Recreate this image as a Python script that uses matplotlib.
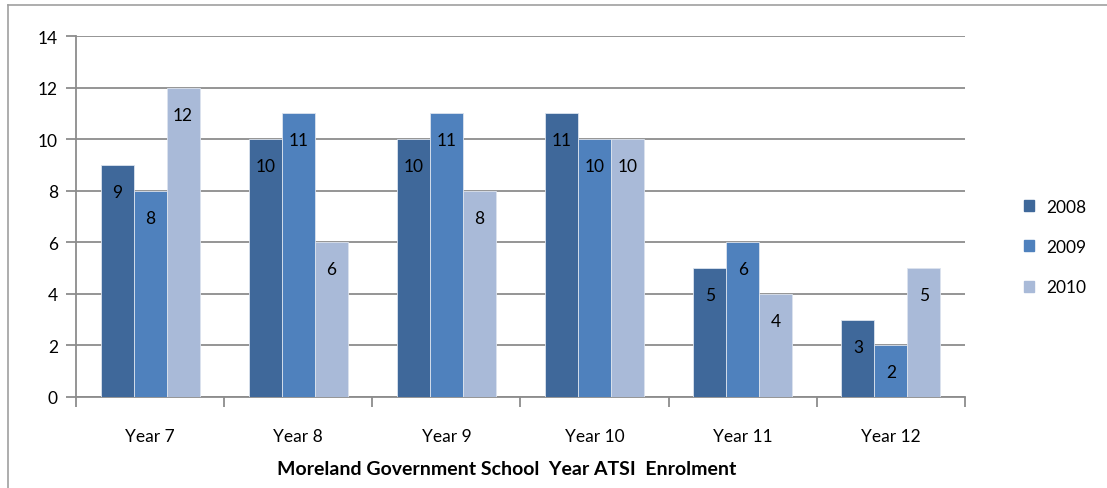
import matplotlib
matplotlib.use("Agg")
import matplotlib.pyplot as plt
import numpy as np
from matplotlib.lines import Line2D

categories = ["Year 7", "Year 8", "Year 9", "Year 10", "Year 11", "Year 12"]
series_names = ["2008", "2009", "2010"]
v2008 = [9, 10, 10, 11, 5, 3]
v2009 = [8, 11, 11, 10, 6, 2]
v2010 = [12, 6, 8, 10, 4, 5]
colors = ["#3F689A", "#4F81BD", "#A9BAD8"]

plt.rcParams['font.family'] = ['Lato', 'DejaVu Sans']
FS = 12.5

fig = plt.figure(figsize=(11.07, 4.89), dpi=100)
ax = fig.add_axes([76/1107, 1-398/489, (965-76)/1107, (398-37)/489])

x = np.arange(len(categories))
w = 0.223
data = [v2008, v2009, v2010]
for i, (vals, c, name) in enumerate(zip(data, colors, series_names)):
    pos = x + (i - 1) * w
    bars = ax.bar(pos, vals, width=w, color=c, edgecolor="#DCE3EE", linewidth=0.6, label=name, zorder=3)
    for b, v in zip(bars, vals):
        ax.annotate(str(v), (b.get_x() + b.get_width()/2, v), xytext=(0, -27),
                    textcoords="offset pixels", ha="center", va="center",
                    fontsize=FS, color="black", zorder=4)

ax.set_xlim(-0.5, len(categories) - 0.5)
ax.set_ylim(0, 14)
ax.set_yticks(range(0, 15, 2))
ax.yaxis.grid(True, color="#8C8C8C", linewidth=1.3, zorder=0)
ax.set_axisbelow(True)

ax.set_xticks(np.arange(-0.5, len(categories)), minor=False)
ax.set_xticklabels([])
ax.set_xticks(x, minor=True)
ax.set_xticklabels(categories, minor=True, fontsize=FS)
ax.tick_params(axis="x", which="major", length=7, width=1.3, color="#8C8C8C")
ax.tick_params(axis="x", which="minor", length=0, pad=22)
ax.tick_params(axis="y", length=7, width=1.3, color="#8C8C8C", labelsize=FS, pad=6)

for s in ["top", "right"]:
    ax.spines[s].set_visible(False)
for s in ["left", "bottom"]:
    ax.spines[s].set_color("#8C8C8C")
    ax.spines[s].set_linewidth(1.3)

fig.text(507/1107, 1-470/489, "Moreland Government School  Year ATSI  Enrolment",
         fontsize=14, fontweight="bold", ha="center", va="center")

handles = [plt.Rectangle((0, 0), 1, 1, color=c) for c in colors]
fig.legend(handles, series_names, loc="center left", bbox_to_anchor=(1024/1107, 1-248/489),
           frameon=False, fontsize=FS, handlelength=0.6, handleheight=0.6,
           labelspacing=1.4, handletextpad=0.7, borderpad=0, borderaxespad=0)

# outer frame (left and top)
fig.add_artist(Line2D([8/1107, 8/1107], [0, 1-6/489], color="#A0A0A0", linewidth=1.2))
fig.add_artist(Line2D([8/1107, 1], [1-6/489, 1-6/489], color="#A0A0A0", linewidth=1.2))

fig.savefig("out.png", dpi=100)
